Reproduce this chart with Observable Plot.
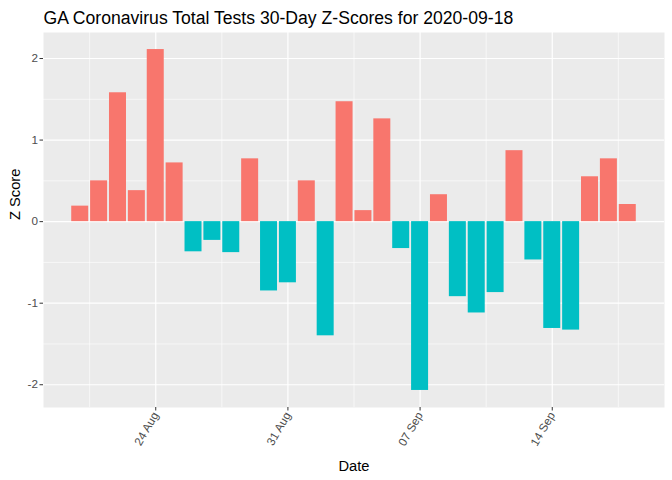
<!DOCTYPE html>
<html>
<head>
<meta charset="utf-8">
<script src="https://cdn.jsdelivr.net/npm/d3@7"></script>
<script src="https://cdn.jsdelivr.net/npm/@observablehq/plot@0.6"></script>
<style>
  html, body { margin: 0; padding: 0; background: #fff; }
  svg { display: block; }
</style>
</head>
<body>
<div id="chart"></div>
<script>
const titleText = "GA Coronavirus Total Tests 30-Day Z-Scores for 2020-09-18";
const dates = [
  "2020-08-20","2020-08-21","2020-08-22","2020-08-23","2020-08-24","2020-08-25",
  "2020-08-26","2020-08-27","2020-08-28","2020-08-29","2020-08-30","2020-08-31",
  "2020-09-01","2020-09-02","2020-09-03","2020-09-04","2020-09-05","2020-09-06",
  "2020-09-07","2020-09-08","2020-09-09","2020-09-10","2020-09-11","2020-09-12",
  "2020-09-13","2020-09-14","2020-09-15","2020-09-16","2020-09-17","2020-09-18"
];
const zScores = [
  0.19, 0.50, 1.58, 0.38, 2.11, 0.72,
  -0.37, -0.23, -0.38, 0.77, -0.85, -0.75,
  0.50, -1.40, 1.47, 0.135, 1.26, -0.33,
  -2.07, 0.33, -0.92, -1.12, -0.87, 0.87,
  -0.47, -1.31, -1.33, 0.55, 0.77, 0.21
];
const yTicks = [-2, -1, 0, 1, 2];
const yMinor = [-1.5, -0.5, 0.5, 1.5];
const xTickDates = ["2020-08-24", "2020-08-31", "2020-09-07", "2020-09-14"];
const xTickLabels = ["24 Aug", "31 Aug", "07 Sep", "14 Sep"];
const xMinorDates = ["2020-08-20T12:00Z", "2020-08-27T12:00Z", "2020-09-03T12:00Z", "2020-09-10T12:00Z", "2020-09-17T12:00Z"];

const DAY = 864e5;
const data = dates.map((d, i) => ({date: new Date(d + "T00:00Z"), z: zScores[i], sign: zScores[i] > 0 ? "pos" : "neg"}));
const xt = xTickDates.map(d => new Date(d + "T00:00Z"));
const xm = xMinorDates.map(d => new Date(d));
const first = data[0].date.getTime(), last = data[data.length - 1].date.getTime();
const lo = first - 0.45 * DAY, hi = last + 0.45 * DAY, ex = (hi - lo) * 0.05;
const yLo = -2.07, yHi = 2.11, yEx = (yHi - yLo) * 0.05;

const font = "'Liberation Sans', Arial, sans-serif";
const chart = Plot.plot({
  width: 672,
  height: 480,
  marginTop: 32,
  marginLeft: 43,
  marginRight: 8,
  marginBottom: 73,
  style: {fontFamily: font, background: "#fff"},
  x: {type: "utc", domain: [new Date(lo - ex), new Date(hi + ex)], axis: null},
  y: {domain: [yLo - yEx, yHi + yEx], axis: null},
  color: {domain: ["pos", "neg"], range: ["#F8766D", "#00BFC4"]},
  marks: [
    Plot.frame({fill: "#EBEBEB", stroke: null}),
    Plot.ruleY(yMinor, {stroke: "#fff", strokeWidth: 0.6}),
    Plot.ruleX(xm, {stroke: "#fff", strokeWidth: 0.6}),
    Plot.ruleY(yTicks, {stroke: "#fff", strokeWidth: 1.2}),
    Plot.ruleX(xt, {stroke: "#fff", strokeWidth: 1.2}),
    Plot.rectY(data, {
      x1: d => new Date(d.date.getTime() - 0.45 * DAY),
      x2: d => new Date(d.date.getTime() + 0.45 * DAY),
      y: "z",
      fill: "sign"
    }),
    Plot.axisY({ticks: yTicks, tickFormat: d => String(d), tickSize: 3.5, tickPadding: 2, fontSize: 11.7,
      color: "#4D4D4D", stroke: "#333", label: null}),
    Plot.axisX({ticks: xt, tickFormat: (d, i) => xTickLabels[i], tickSize: 3.5, tickPadding: 2, tickRotate: -60,
      fontSize: 11.7, color: "#4D4D4D", stroke: "#333", label: null}),
    Plot.text([titleText], {frameAnchor: "top-left", dy: -9, dx: 0, fontSize: 17.6, fill: "#000", textAnchor: "start", lineAnchor: "bottom"}),
    Plot.text(["Z Score"], {frameAnchor: "left", dx: -28, rotate: -90, fontSize: 14.7, fill: "#000", lineAnchor: "middle"}),
    Plot.text(["Date"], {frameAnchor: "bottom", dy: 63, fontSize: 14.7, fill: "#000", lineAnchor: "bottom"})
  ]
});
document.getElementById("chart").appendChild(chart);
</script>
</body>
</html>
